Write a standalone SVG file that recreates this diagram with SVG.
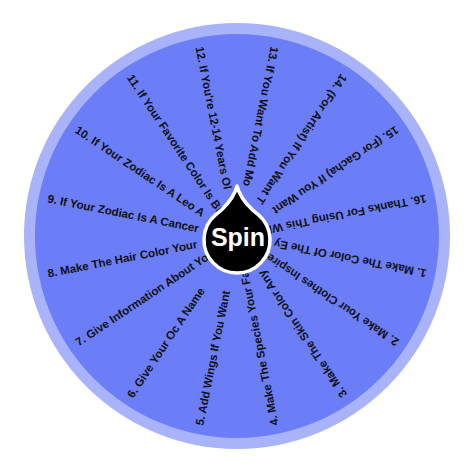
<svg xmlns="http://www.w3.org/2000/svg" width="474" height="474" viewBox="0 0 474 474">
<style>
.lbl{font-family:"Liberation Sans",Arial,sans-serif;font-weight:bold;font-size:11.5px;fill:#111;}
.spin{font-family:"Liberation Sans",Arial,sans-serif;font-weight:bold;font-size:25px;fill:#fff;}
</style>
<rect width="474" height="474" fill="#fff"/>
<g id="wheel">
<circle cx="237" cy="236" r="213" fill="#a8b3fa"/>
<circle cx="237" cy="236" r="202" fill="#6b7ef7"/>
</g>
<g id="labels" transform="translate(237,236)">
<g id="seg1"><text class="lbl" transform="rotate(191.25)" x="-193" y="4">1. Make The Color Of The Ey</text></g>
<g id="seg2"><text class="lbl" transform="rotate(213.75)" x="-193" y="4">2. Make Your Clothes Inspired</text></g>
<g id="seg3"><text class="lbl" transform="rotate(236.25)" x="-193" y="4">3. Make The Skin Color Any</text></g>
<g id="seg4"><text class="lbl" transform="rotate(258.75)" x="-193" y="4">4. Make The Species Your Fav</text></g>
<g id="seg5"><text class="lbl" transform="rotate(281.25)" x="-193" y="4">5. Add Wings If You Want</text></g>
<g id="seg6"><text class="lbl" transform="rotate(303.75)" x="-193" y="4">6. Give Your Oc A Name</text></g>
<g id="seg7"><text class="lbl" transform="rotate(326.25)" x="-193" y="4">7. Give Information About You</text></g>
<g id="seg8"><text class="lbl" transform="rotate(348.75)" x="-193" y="4">8. Make The Hair Color Your</text></g>
<g id="seg9"><text class="lbl" transform="rotate(11.25)" x="-193" y="4">9. If Your Zodiac Is A Cancer</text></g>
<g id="seg10"><text class="lbl" transform="rotate(33.75)" x="-193" y="4">10. If Your Zodiac Is A Leo A</text></g>
<g id="seg11"><text class="lbl" transform="rotate(56.25)" x="-193" y="4">11. If Your Favorite Color Is Bl</text></g>
<g id="seg12"><text class="lbl" transform="rotate(78.75)" x="-193" y="4">12. If You're 12-14 Years Ol</text></g>
<g id="seg13"><text class="lbl" transform="rotate(101.25)" x="-193" y="4">13. If You Want To Add Mo</text></g>
<g id="seg14"><text class="lbl" transform="rotate(123.75)" x="-193" y="4">14. (For Artist) If You Want T</text></g>
<g id="seg15"><text class="lbl" transform="rotate(146.25)" x="-193" y="4">15. (For Gacha) If You Want</text></g>
<g id="seg16"><text class="lbl" transform="rotate(168.75)" x="-193" y="4">16. Thanks For Using This Wh</text></g>
</g>
<g id="spin-button">
<path d="M237,186 C239.5,196.5 246,203.6 252.1,209.6 L258.2,214.7 A33,33 0 1 1 215.8,214.7 L221.9,209.6 C228,203.6 234.5,196.5 237,186 Z" fill="#000" stroke="#fff" stroke-width="3.5" stroke-linejoin="round"/>
<text class="spin" x="238" y="246" text-anchor="middle">Spin</text>
</g>
</svg>
